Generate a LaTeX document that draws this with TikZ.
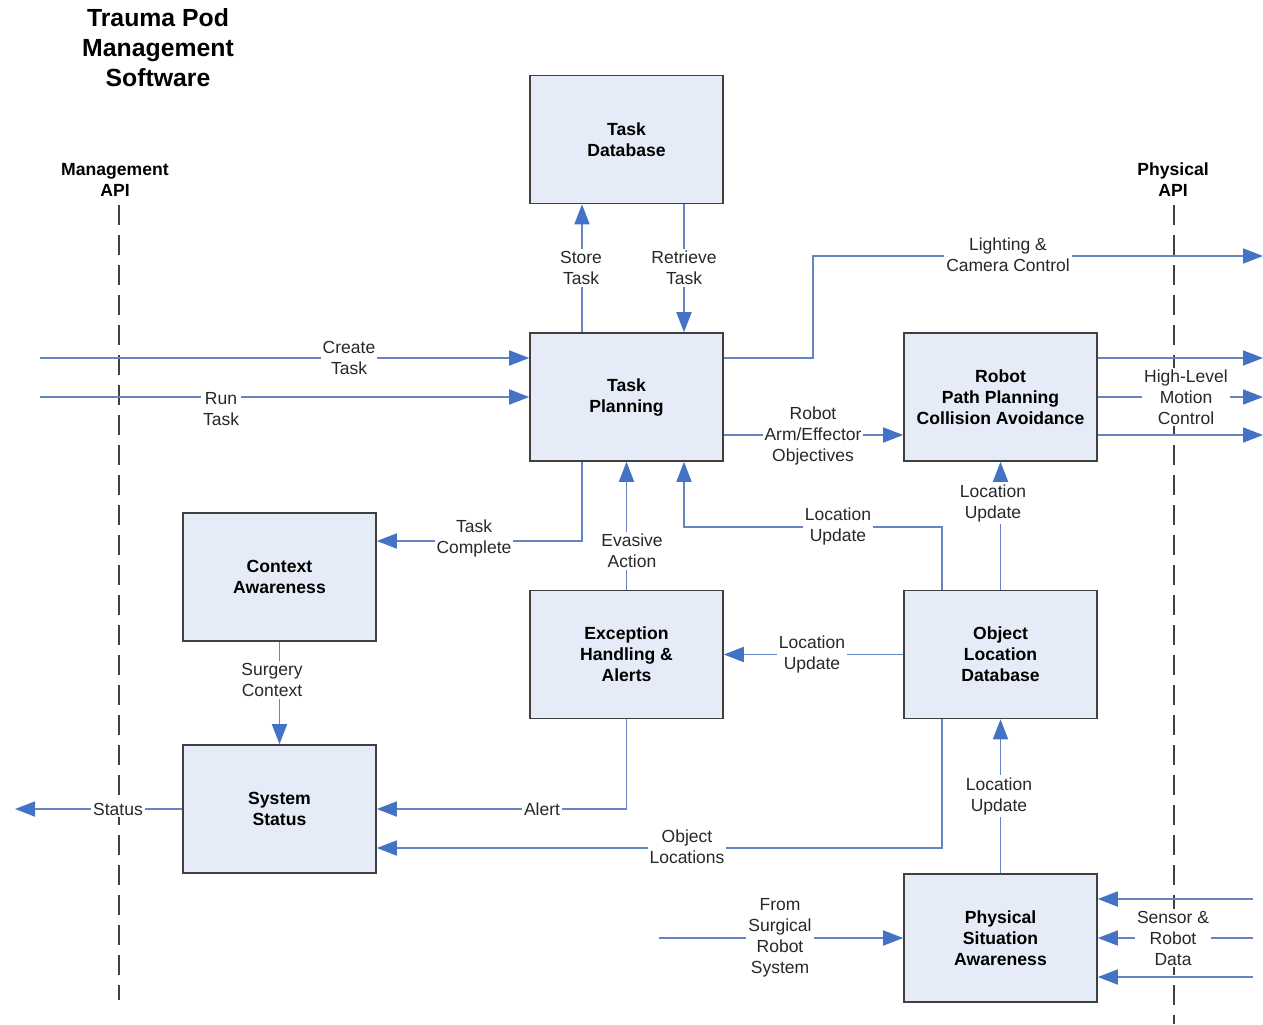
\documentclass[tikz,border=0pt]{standalone}
\usepackage{fontspec}
\setmainfont{Liberation Sans}
\usetikzlibrary{arrows.meta}

\definecolor{boxfill}{RGB}{230,236,247}
\definecolor{boxline}{RGB}{64,64,64}
\definecolor{flow}{RGB}{100,132,196}
\definecolor{tipcol}{RGB}{68,114,196}
\definecolor{txt}{RGB}{40,40,40}

\tikzset{
  block/.style={draw=boxline, line width=0.8pt, fill=boxfill,
    minimum width=96.5pt, minimum height=64pt, inner sep=0pt, align=center,
    font=\fontsize{8.8}{10.5}\selectfont\bfseries, text=black},
  conn/.style={draw=flow, line width=0.85pt,
    -{Triangle[length=10pt,width=7.5pt,color=tipcol]}},
  lbl/.style={fill=white, inner sep=1pt, align=center,
    font=\fontsize{8.75}{10.5}\selectfont, text=txt},
  api/.style={draw=boxline, line width=0.75pt, dash pattern=on 10pt off 5pt},
  apilbl/.style={align=center, font=\fontsize{8.8}{10.5}\selectfont\bfseries},
  titlelbl/.style={align=center, font=\fontsize{12.4}{15}\selectfont\bfseries},
}

\begin{document}
\begin{tikzpicture}[x=0.5pt, y=-0.5pt]
\useasboundingbox (0,0) rectangle (1263,1024);

% title and interface boundaries
\node[titlelbl] (title) at (158,48) {Trauma Pod\\Management\\Software};
\node[apilbl] (mapi) at (115,180) {Management\\API};
\node[apilbl] (papi) at (1173,180) {Physical\\API};
\coordinate (mtop) at (119,205);
\coordinate (mbot) at (119,1000);
\coordinate (ptop) at (1174,205);
\coordinate (pbot) at (1174,1024);
\draw[api] (mtop) -- (mbot);
\draw[api] (ptop) -- (pbot);

% functional blocks
\node[block] (tdb) at (626.5,139.5) {Task\\Database};
\node[block] (tp)  at (626.5,397)   {Task\\Planning};
\node[block] (rpp) at (1000.5,397)  {Robot\\Path Planning\\Collision Avoidance};
\node[block] (ca)  at (279.5,577)   {Context\\Awareness};
\node[block] (eh)  at (626.5,654.5) {Exception\\Handling \&\\Alerts};
\node[block] (old) at (1000.5,654.5){Object\\Location\\Database};
\node[block] (ss)  at (279.5,809)   {System\\Status};
\node[block] (psa) at (1000.5,938)  {Physical\\Situation\\Awareness};

% free ends of external flows
\coordinate (createin) at (40,358);
\coordinate (runin)    at (40,397);
\coordinate (lightout) at (1263,256);
\coordinate (hlm1) at (1263,358);
\coordinate (hlm2) at (1263,397);
\coordinate (hlm3) at (1263,435);
\coordinate (statout) at (15,809);
\coordinate (surgin) at (659,938);
\coordinate (sens1) at (1253,899);
\coordinate (sens2) at (1253,938);
\coordinate (sens3) at (1253,977);

% connectors
\draw[conn] (582,0 |- tp.north) -- (582,0 |- tdb.south);
\draw[conn] (684,0 |- tdb.south) -- (684,0 |- tp.north);
\draw[conn] (createin) -- (tp.west |- createin);
\draw[conn] (runin) -- (tp.west |- runin);
\draw[conn] (tp.east |- createin) -| (813,256) -- (lightout);
\draw[conn] (tp.east |- 0,435) -- (rpp.west |- 0,435);
\draw[conn] (rpp.east |- hlm1) -- (hlm1);
\draw[conn] (rpp.east |- hlm2) -- (hlm2);
\draw[conn] (rpp.east |- hlm3) -- (hlm3);
\draw[conn] (old.north) -- (rpp.south);
\draw[conn] (942,0 |- old.north) |- (684,527) -- (684,0 |- tp.south);
\draw[conn] (eh.north) -- (tp.south);
\draw[conn] (582,0 |- tp.south) |- (ca.east |- 0,541);
\draw[conn] (ca.south) -- (ss.north);
\draw[conn] (old.west) -- (eh.east);
\draw[conn] (eh.south) |- (ss.east);
\draw[conn] (942,0 |- old.south) |- (ss.east |- 0,848);
\draw[conn] (ss.west) -- (statout);
\draw[conn] (psa.north) -- (old.south);
\draw[conn] (surgin) -- (psa.west);
\draw[conn] (sens1) -- (psa.east |- sens1);
\draw[conn] (sens2) -- (psa.east |- sens2);
\draw[conn] (sens3) -- (psa.east |- sens3);

% connector labels
\node[lbl] (lstore) at (581,268) {Store\\Task};
\node[lbl] (lretr)  at (684,268) {Retrieve\\Task};
\node[lbl] (lcreate) at (349,358) {Create\\Task};
\node[lbl] (lrun) at (221,409) {Run\\Task};
\node[lbl] (llight) at (1008,255) {Lighting \&\\Camera Control};
\node[lbl] (larm) at (813,436) {Robot\\Arm/Effector\\Objectives};
\node[lbl] (lhlm) at (1186,397) {High-Level\\Motion\\Control};
\node[lbl] (lloc1) at (993,503) {Location\\Update};
\node[lbl] (lloc2) at (838,526) {Location\\Update};
\node[lbl] (levade) at (632,551) {Evasive\\Action};
\node[lbl] (ldone) at (474,538) {Task\\Complete};
\node[lbl] (lsurg) at (272,680) {Surgery\\Context};
\node[lbl] (lloc3) at (812,654) {Location\\Update};
\node[lbl] (lalert) at (542,809) {Alert};
\node[lbl] (lobj) at (687,847) {Object\\Locations};
\node[lbl] (lstat) at (118,809) {Status};
\node[lbl] (lloc4) at (999,796) {Location\\Update};
\node[lbl] (lfrom) at (780,938) {From\\Surgical\\Robot\\System};
\node[lbl] (lsens) at (1173,938) {Sensor \&\\Robot\\Data};

\end{tikzpicture}
\end{document}
